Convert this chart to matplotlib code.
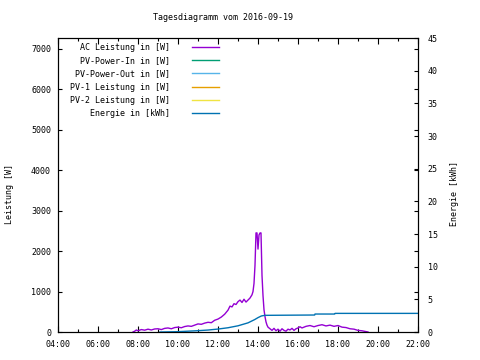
import matplotlib
matplotlib.use("Agg")
import matplotlib.pyplot as plt
from matplotlib.ticker import MultipleLocator, FuncFormatter

# ---------------- data ----------------
title = "Tagesdiagramm vom 2016-09-19"
series_names = ["AC Leistung in [W]", "PV-Power-In in [W]", "PV-Power-Out in [W]",
                "PV-1 Leistung in [W]", "PV-2 Leistung in [W]", "Energie in [kWh]"]
series_colors = ["#9400d3", "#009e73", "#56b4e9", "#e69f00", "#f0e442", "#0072b2"]

ac_times = ["07:45", "07:50", "07:55", "08:00", "08:10", "08:20", "08:30", "08:40", "08:50",
            "09:00", "09:10", "09:20", "09:30", "09:40", "09:50", "10:00", "10:10", "10:20",
            "10:30", "10:40", "10:50", "11:00", "11:10", "11:20", "11:30", "11:40", "11:50",
            "12:00", "12:10", "12:20", "12:30", "12:36", "12:42", "12:48", "12:54", "13:00",
            "13:06", "13:12", "13:18", "13:24", "13:30", "13:36", "13:42", "13:45", "13:48",
            "13:51", "13:54", "13:57", "14:00", "14:03", "14:06", "14:09", "14:12", "14:15",
            "14:18", "14:21", "14:24", "14:27", "14:30", "14:36", "14:42", "14:48", "14:54",
            "15:00", "15:06", "15:12", "15:18", "15:24", "15:30", "15:36", "15:42", "15:48",
            "15:54", "16:00", "16:06", "16:12", "16:24", "16:36", "16:48", "17:00", "17:12",
            "17:24", "17:36", "17:48", "18:00", "18:12", "18:24", "18:36", "18:48", "19:00",
            "19:12", "19:24", "19:30"]
ac_power = [0, 20, 50, 30, 60, 45, 70, 50, 75,
            80, 60, 90, 100, 80, 110, 120, 105, 135,
            150, 140, 170, 200, 190, 220, 240, 230, 290,
            320, 370, 440, 540, 640, 620, 700, 680, 750,
            790, 730, 810, 740, 790, 840, 920, 1000, 1200,
            1650, 2450, 2450, 2050, 2400, 2450, 2450, 1400, 900,
            550, 380, 250, 170, 120, 80, 40, 90, 30,
            70, 20, 80, 40, 20, 70, 50, 90, 40,
            80, 100, 130, 100, 140, 160, 130, 160, 180,
            150, 170, 140, 160, 120, 110, 80, 70, 40,
            30, 10, 0]

pv_in_times, pv_in_power = [], []
pv_out_times, pv_out_power = [], []
pv1_times, pv1_power = [], []
pv2_times, pv2_power = [], []

energy_times = ["09:06", "10:00", "11:00", "11:30", "12:00", "12:30", "13:00", "13:30",
                "13:50", "14:00", "14:10", "14:20", "16:50", "16:51", "17:50", "17:51", "22:00"]
energy_kwh = [0.0, 0.05, 0.2, 0.3, 0.45, 0.65, 0.95, 1.4,
              1.9, 2.2, 2.45, 2.55, 2.6, 2.75, 2.75, 2.85, 2.85]


def to_h(t):
    h, m = t.split(":")
    return int(h) + int(m) / 60.0


# ---------------- plot ----------------
W, H = 480, 360
fig = plt.figure(figsize=(4.8, 3.6), dpi=100)
ax = fig.add_axes([58 / W, 28 / H, 360 / W, 294 / H])
ax2 = ax.twinx()

FS = 6
mono = "DejaVu Sans Mono"
lw = 1.0

series_data = [(ac_times, ac_power), (pv_in_times, pv_in_power), (pv_out_times, pv_out_power),
               (pv1_times, pv1_power), (pv2_times, pv2_power)]
handles = []
for (ts, vs), name, col in zip(series_data, series_names[:5], series_colors[:5]):
    ln, = ax.plot([to_h(t) for t in ts], vs, color=col, lw=lw, label=name)
    handles.append(ln)
ln, = ax2.plot([to_h(t) for t in energy_times], energy_kwh, color=series_colors[5],
               lw=lw, label=series_names[5])
handles.append(ln)

ax.set_xlim(4, 22)
ax.set_ylim(0, 7270)
ax2.set_ylim(0, 45)

ax.xaxis.set_major_locator(MultipleLocator(2))
ax.xaxis.set_minor_locator(MultipleLocator(1))
ax.xaxis.set_major_formatter(FuncFormatter(lambda v, p: "%02d:00" % int(round(v))))
ax.yaxis.set_major_locator(MultipleLocator(1000))
ax2.yaxis.set_major_locator(MultipleLocator(5))

ax.tick_params(axis="x", which="major", direction="in", length=4, width=0.8,
               top=True, labelsize=FS, pad=6)
ax.tick_params(axis="x", which="minor", direction="in", length=2.5, width=0.8, top=True)
ax.tick_params(axis="y", which="major", direction="in", length=3, width=0.8,
               right=True, labelsize=FS, pad=5)
ax2.tick_params(axis="y", direction="in", length=3, width=0.8, labelsize=FS, pad=7)

for a in (ax, ax2):
    for s in a.spines.values():
        s.set_linewidth(0.8)
    for lab in a.get_xticklabels() + a.get_yticklabels():
        lab.set_family(mono)

ax.set_ylabel("Leistung [W]", fontsize=FS, family=mono)
ax2.set_ylabel("Energie [kWh]", fontsize=FS, family=mono)
ax.yaxis.set_label_coords(-44 / 360, 0.47)
ax2.yaxis.set_label_coords(1 + 32 / 360, 0.47)

fig.text(223 / W, 1 - 18 / H, title, fontsize=FS, family=mono, ha="center", va="center")

leg = ax2.legend(handles=handles, loc="upper right", bbox_to_anchor=(219 / W, 1 - 43 / H),
                 bbox_transform=fig.transFigure, frameon=False, markerfirst=False,
                 prop={"family": mono, "size": FS}, handlelength=3.3, handletextpad=2.6,
                 labelspacing=0.5, borderpad=0, borderaxespad=0)

fig.savefig("out.png", dpi=100)
